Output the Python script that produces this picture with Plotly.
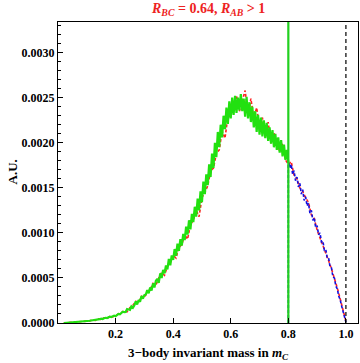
import numpy as np
import plotly.graph_objects as go

# histogram heights in units of 1e-4 (A.U.)
# green: bins of 0.005 from 0.020 to 0.800
green_start, green_step = 0.020, 0.005
green_1e4 = [
    0.0, 0.01, 0.02, 0.03, 0.04, 0.05, 0.06, 0.08, 0.09, 0.11,
    0.12, 0.14, 0.15, 0.17, 0.19, 0.20, 0.22, 0.24, 0.25, 0.28,
    0.30, 0.32, 0.36, 0.33, 0.40, 0.42, 0.48, 0.44, 0.52, 0.58,
    0.55, 0.63, 0.70, 0.66, 0.78, 0.82, 0.75, 0.92, 1.00, 0.96,
    1.10, 1.25, 1.20, 1.22, 1.55, 1.50, 1.45, 1.85, 1.70, 1.95,
    2.40, 2.05, 2.55, 2.35, 3.00, 2.70, 3.10, 3.15, 3.65, 3.30,
    3.95, 3.60, 4.40, 3.95, 4.70, 4.90, 4.45, 5.50, 5.00, 5.90,
    5.50, 6.40, 5.95, 7.10, 6.40, 7.50, 7.00, 8.20, 7.45, 8.80,
    8.00, 9.30, 8.60, 9.90, 9.20, 10.7, 9.80, 11.4, 10.4, 12.1,
    11.2, 12.9, 11.8, 13.8, 12.5, 14.6, 13.4, 15.7, 14.3, 16.5,
    15.3, 17.6, 16.2, 18.8, 17.2, 20.0, 18.4, 21.2, 19.5, 22.0,
    20.6, 23.0, 21.5, 23.9, 22.1, 24.6, 22.7, 25.0, 23.1, 25.2,
    23.3, 25.0, 23.6, 25.4, 23.5, 24.9, 22.9, 25.1, 22.7, 24.5,
    22.3, 24.0, 21.7, 23.5, 21.2, 23.1, 20.9, 22.8, 20.7, 22.5,
    20.5, 22.2, 20.2, 21.7, 19.9, 21.4, 19.5, 21.0, 19.2, 20.6,
    18.9, 20.3, 18.5, 19.8, 18.1, 19.2, 17.8,
]

# red: bins of 0.01 from 0.02 to 1.00
red_start, red_step = 0.02, 0.01
red_1e4 = [
    0.0, 0.02, 0.04, 0.06, 0.09, 0.11, 0.14, 0.17, 0.21, 0.24,
    0.33, 0.28, 0.45, 0.40, 0.56, 0.50, 0.72, 0.68, 0.85, 0.98,
    1.15, 1.35, 1.25, 1.70, 1.95, 2.40, 2.25, 2.95, 2.80, 3.50,
    3.70, 4.40, 4.20, 5.00, 5.60, 5.30, 6.30, 6.70, 7.50, 7.20,
    8.40, 8.70, 9.80, 9.30, 10.9, 11.4, 12.5, 11.8, 13.9, 14.5,
    15.2, 16.9, 17.2, 18.8, 19.2, 21.3, 20.5, 22.9, 23.0, 24.3,
    25.2, 23.5, 24.6, 25.8, 23.1, 24.9, 22.7, 23.9, 21.6, 22.8,
    20.6, 22.3, 19.9, 21.1, 20.2, 19.0, 19.9, 18.1, 17.6, 17.9,
    16.4, 16.0, 15.0, 14.6, 13.9, 13.4, 12.0, 11.6, 10.3, 9.5,
    8.6, 7.9, 6.9, 6.0, 5.0, 3.9, 2.7, 1.3, 0.2,
]

# blue: bins of 0.005 from 0.800 to 1.000
blue_start, blue_step = 0.800, 0.005
blue_1e4 = [
    18.0, 17.2, 17.6, 16.5, 16.9, 15.8, 16.2, 15.1, 15.5, 14.3,
    14.8, 13.6, 14.0, 13.0, 13.3, 12.2, 12.5, 11.4, 11.7, 10.6,
    10.8, 9.8, 10.0, 9.0, 9.1, 8.1, 8.2, 7.2, 7.2, 6.2,
    6.1, 5.1, 5.0, 4.1, 3.8, 3.0, 2.6, 1.9, 1.3, 0.6,
    0.1,
]

m_cut = 0.8   # green vertical line
m_max = 1.0   # black dashed line

x_range = [0, 1.042]
y_range = [0, 0.00334]


def bins(start, step, n):
    return np.round(start + step * np.arange(n), 4)


gx = bins(green_start, green_step, len(green_1e4))
rx = bins(red_start, red_step, len(red_1e4))
bx = bins(blue_start, blue_step, len(blue_1e4))
gy = np.array(green_1e4) * 1e-4
ry = np.array(red_1e4) * 1e-4
by = np.array(blue_1e4) * 1e-4

fig = go.Figure()

fig.add_trace(go.Scatter(x=rx, y=ry, mode="lines",
                         line=dict(color="#ff2020", width=1.6, dash="3px,2px")))
# blue histogram, with its left edge down to zero
fig.add_trace(go.Scatter(x=np.r_[bx[0], bx], y=np.r_[0, by], mode="lines",
                         line=dict(color="#1010e0", width=1.6, dash="3px,2px")))
fig.add_trace(go.Scatter(x=gx, y=gy, mode="lines",
                         line=dict(color="#22e010", width=2.2)))
fig.add_trace(go.Scatter(x=[m_cut, m_cut], y=y_range, mode="lines",
                         line=dict(color="#22d020", width=2.2)))
fig.add_trace(go.Scatter(x=[m_max, m_max], y=y_range, mode="lines",
                         line=dict(color="black", width=1.2, dash="4px,3px")))

tick_font = dict(family="Liberation Serif", size=12, color="black", weight="bold")

fig.update_layout(
    width=360, height=363,
    margin=dict(l=58, r=2, t=22, b=40),
    plot_bgcolor="white", paper_bgcolor="white",
    showlegend=False,
    xaxis=dict(range=x_range, showgrid=False, zeroline=False,
               showline=True, linecolor="black", linewidth=1, mirror=True,
               tickvals=[0.2, 0.4, 0.6, 0.8, 1.0], ticktext=["0.2", "0.4", "0.6", "0.8", "1.0"],
               ticks="inside", ticklen=5, tickcolor="black", tickfont=tick_font),
    yaxis=dict(range=y_range, showgrid=False, zeroline=False,
               showline=True, linecolor="black", linewidth=1, mirror=True,
               dtick=0.0005, tick0=0, tickformat=".4f",
               ticks="inside", ticklen=5, tickcolor="black", tickfont=tick_font,
               minor=dict(dtick=0.0001, ticks="inside", ticklen=3, tickcolor="black")),
    annotations=[
        dict(text="<i>R</i><sub><i>BC</i></sub> = 0.64, <i>R</i><sub><i>AB</i></sub> > 1",
             xref="paper", yref="paper", x=0.5, y=1, yshift=13, showarrow=False,
             xanchor="center", yanchor="middle",
             font=dict(family="Liberation Serif", size=14, color="#ee2222", weight="bold")),
        dict(text="3\u2212body invariant mass in <i>m</i><sub><i>C</i></sub>",
             xref="paper", yref="paper", x=0.5, y=0, yshift=-30, showarrow=False,
             xanchor="center", yanchor="middle",
             font=dict(family="Liberation Serif", size=13, color="black", weight="bold")),
        dict(text="A.U.", xref="paper", yref="paper", x=0, y=0.5, xshift=-46,
             showarrow=False, textangle=-90, xanchor="center", yanchor="middle",
             font=dict(family="Liberation Serif", size=13, color="black", weight="bold")),
    ],
)

# the page's default body margin would push the 360x363 figure out of the window
fig.write_html("out.html", config={"displayModeBar": False},
               post_script="document.body.style.margin='0px';")
